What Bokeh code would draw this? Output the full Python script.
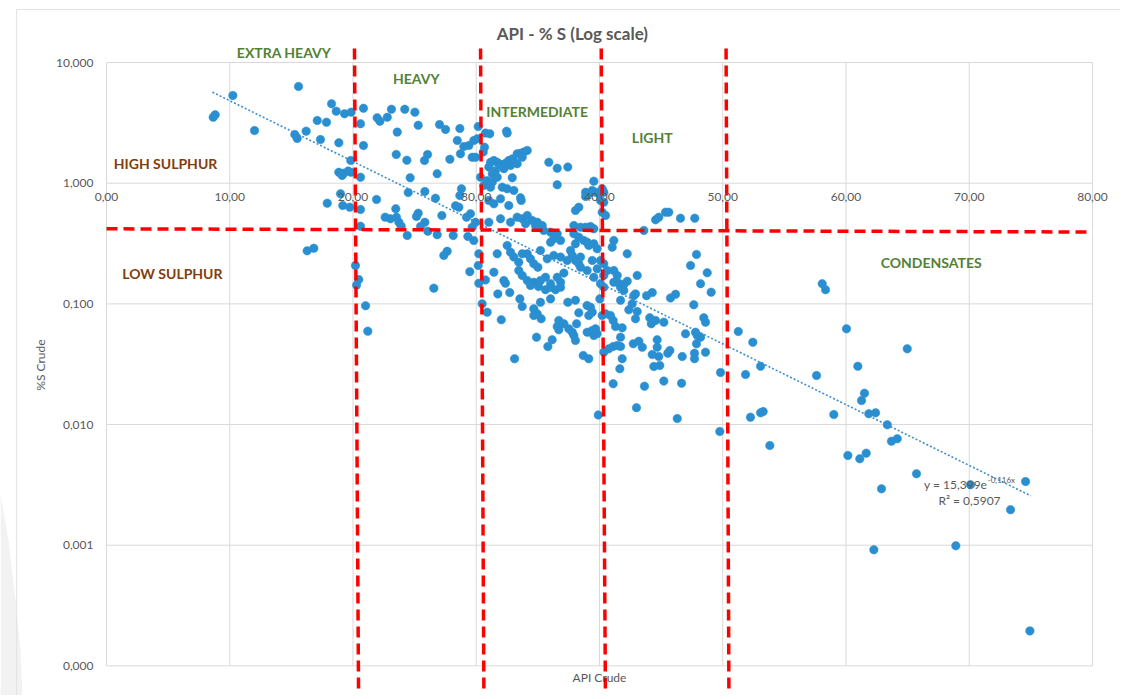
import math
from bokeh.plotting import figure
from bokeh.models import FixedTicker, CustomJSTickFormatter, Range1d
from bokeh.core.properties import value
from bokeh.embed import file_html
from bokeh.resources import INLINE

# ---------------- data ----------------
x_ticks = [0, 10, 20, 30, 40, 50, 60, 70, 80]
y_ticks = [0.0001, 0.001, 0.01, 0.1, 1, 10]

api_a = [8.66,8.82,10.25,12.01,15.58,15.28,15.47,16.20,17.10,17.85,
         17.36,18.26,18.64,19.31,19.85,18.85,19.82,18.85,19.25,19.61,
         19.85,19.12,20.61,20.85,20.61,20.85,21.96,22.18,22.78,23.12,
         24.20,25.02,23.59,25.29,27.02,27.51,28.67,30.16,28.46,28.99,
         29.40,29.80,30.08,23.51,24.37,26.05,25.80,27.86,28.72,29.67,
         29.94,24.64,26.83,30.35,30.67]
s_a = [3.52,3.69,5.33,2.73,6.33,2.53,2.35,2.70,3.31,3.20,
       2.30,4.55,3.95,3.76,3.88,2.16,1.54,1.23,1.21,1.26,
       1.23,1.16,1.12,4.18,3.11,2.05,3.48,3.26,3.52,4.10,
       4.10,3.88,2.65,3.02,3.06,2.79,2.84,2.95,2.26,2.01,
       2.05,2.26,2.33,1.73,1.55,1.73,1.54,1.58,1.75,1.64,
       1.64,1.11,1.20,1.12,1.99]

api_b = [18.99,17.91,19.17,19.74,20.61,21.91,20.61,23.47,22.61,23.04,
         23.53,23.72,23.91,24.40,24.48,25.83,26.69,25.29,25.15,25.83,
         25.48,26.07,27.21,26.83,28.13,28.80,28.67,28.32,28.59,29.21,
         29.53,29.94,29.67,29.32,29.80,16.28,16.82,27.64,27.37,30.21,
         20.20,20.47,20.29,21.02,21.20,26.56,29.48,30.16]
s_b = [0.817,0.683,0.653,0.633,0.605,0.733,0.440,0.614,0.523,0.507,
       0.523,0.475,0.440,0.369,0.837,0.854,0.751,0.564,0.530,0.475,
       0.438,0.400,0.540,0.374,0.369,0.899,0.791,0.650,0.633,0.523,
       0.558,0.475,0.432,0.362,0.335,0.275,0.289,0.273,0.252,0.260,
       0.208,0.159,0.143,0.0964,0.0594,0.135,0.185,0.208]

api_c = [30.75,31.10,30.57,32.46,32.51,
         31.16,31.43,31.70,31.97,32.37,32.64,32.92,33.05,33.32,33.59,
         33.86,34.14,33.73,33.32,32.78,32.24,31.56,31.02,31.30,31.70,
         32.92,30.89,35.89,36.57,37.43,36.57,39.54,38.87,39.13,39.41,
         39.68,39.95,40.22,40.35,38.87,40.08,40.35,40.22,40.49,30.61,
         31.16,31.30,32.11,32.51,33.05,31.02,31.43,31.97,32.64,33.59,
         33.65,38.32,38.05,31.02,31.97,32.78,33.32,33.73,34.14,34.54,
         34.95,35.35,34.81,34.00,35.48,36.03,36.29,36.57,36.84,36.03,
         37.92,38.46,37.92,38.32,38.87,39.27,39.54,43.60,44.55,44.81,
         45.36,45.62,46.57,47.73,38.05,38.73,39.00,39.13,39.54,39.81,
         41.16,41.03,42.25,41.16,41.44,31.43,32.24,33.45,33.73,34.14,
         34.67,35.21,35.62,36.03,36.57,36.84,37.11,37.65,37.79,38.05,
         38.32,38.46,31.70,32.51,32.78,33.05,33.45,33.73,34.14,34.40,
         34.67,35.21,35.76,36.29,36.84,37.38,40.08,40.35,40.63,39.00,
         39.54,39.41]
s_c = [2.60,2.57,1.81,2.70,2.60,
       1.49,1.54,1.49,1.43,1.46,1.54,1.59,1.52,1.75,1.77,
       1.81,1.87,1.64,1.45,1.40,1.32,1.27,1.36,1.20,1.12,
       1.11,1.05,1.49,1.33,1.36,0.970,1.04,0.842,0.817,0.870,
       0.842,0.817,0.899,0.842,0.776,0.719,0.696,0.575,0.540,0.957,
       0.927,1.02,0.927,0.899,0.870,0.719,0.675,0.743,0.653,0.757,
       0.719,0.633,0.594,0.475,0.507,0.475,0.523,0.507,0.540,0.491,
       0.475,0.446,0.446,0.461,0.406,0.393,0.346,0.381,0.335,0.324,
       0.446,0.432,0.381,0.357,0.432,0.438,0.419,0.406,0.497,0.523,
       0.575,0.575,0.513,0.513,0.315,0.335,0.324,0.305,0.315,0.286,
       0.335,0.295,0.260,0.189,0.172,0.183,0.156,0.189,0.172,0.156,
       0.151,0.156,0.166,0.147,0.166,0.151,0.180,0.277,0.252,0.229,
       0.215,0.244,0.260,0.305,0.268,0.244,0.221,0.260,0.260,0.236,
       0.215,0.277,0.236,0.252,0.244,0.229,0.229,0.215,0.189,0.189,
       0.166,0.229]

api_d = [30.21,30.75,30.48,30.89,32.03,33.11,31.75,32.72,32.37,33.54,
         33.73,35.00,36.03,36.43,35.62,35.05,34.40,36.84,36.03,35.21,
         34.67,34.95,35.27,34.67,34.89,35.81,36.16,36.70,37.11,36.70,
         37.51,37.79,38.14,38.05,37.92,36.57,37.43,38.05,38.32,38.99,
         39.27,39.13,39.41,39.00,39.41,39.68,39.81,39.54,38.68,39.13,
         39.90,38.46,39.81,40.35,40.08,40.35,43.06,40.03,40.22,40.49,
         40.89,41.11,41.30,41.84,41.71,41.44,41.71,41.11,40.76,40.35,
         41.84,41.65,41.11,41.16,41.57,41.97,42.25,41.71,41.97,41.71,
         42.38,42.65,42.78,42.92,43.06,42.92,43.82,44.28,42.74,43.19,
         43.47,44.08,44.20,44.55,45.22,45.76,46.17,44.68,44.68,44.28,
         44.81,44.41,44.89,45.71,45.54,43.65,45.22,46.66,43.00,46.31,
         46.71,46.98,47.79,47.93,48.20,47.87,47.65,48.46,48.60,47.71,
         47.71,48.60,47.39,47.87,48.20,48.74,49.06,49.82,49.76,51.26]
s_d = [0.148,0.158,0.100,0.0853,0.0738,0.0351,0.121,0.124,0.148,0.110,
       0.0951,0.201,0.137,0.131,0.131,0.139,0.142,0.137,0.110,0.103,
       0.0910,0.0827,0.0752,0.0801,0.0530,0.0443,0.0504,0.0728,0.0684,0.0610,
       0.0621,0.0582,0.0684,0.0497,0.0547,0.0649,0.103,0.107,0.0843,0.0969,
       0.0939,0.0801,0.0853,0.0582,0.0602,0.0621,0.0565,0.0547,0.0373,0.0351,
       0.0120,0.201,0.195,0.172,0.147,0.137,0.172,0.110,0.0801,0.0827,
       0.0801,0.0728,0.0649,0.0633,0.0530,0.0452,0.0443,0.0443,0.0424,0.0398,
       0.0351,0.0290,0.0218,0.151,0.148,0.145,0.154,0.137,0.129,0.107,
       0.0893,0.100,0.117,0.121,0.0864,0.0752,0.117,0.124,0.0467,0.0490,
       0.0437,0.0767,0.0684,0.0728,0.0705,0.112,0.120,0.0504,0.0437,0.0380,
       0.0366,0.0303,0.0309,0.0411,0.0390,0.0208,0.0229,0.0220,0.0138,0.0112,
       0.0366,0.0565,0.0582,0.0547,0.0530,0.0467,0.0982,0.0767,0.0705,0.0390,
       0.0351,0.0398,0.208,0.257,0.147,0.181,0.125,0.0270,0.00876,0.0590]

api_e = [52.44,53.07,51.85,52.25,53.07,53.28,53.82,58.07,58.34,60.04,
         64.97,60.96,57.61,61.50,61.26,59.01,61.85,62.40,63.35,63.69,
         64.16,60.15,61.12,61.64,65.72,62.88,70.10,74.57,73.35,62.26,
         68.91,74.92]
s_e = [0.0481,0.0304,0.0260,0.0115,0.0125,0.0128,0.00670,0.147,0.131,0.0621,
       0.0424,0.0304,0.0255,0.0182,0.0158,0.0121,0.0123,0.0125,0.00995,0.00728,
       0.00762,0.00554,0.00520,0.00579,0.00391,0.00293,0.00317,0.00337,0.00197,0.000916,
       0.000989,0.000195]

api_crude = api_a + api_b + api_c + api_d + api_e
sulphur_crude = s_a + s_b + s_c + s_d + s_e

# exponential trendline shown on the chart: y = 15,399 e^(-0,116x)
trend_a = 15.399
trend_b = -0.116
trend_x = [8.6, 75.0]
trend_eq = "y = 15,399e"
trend_exp = "-0,116x"
trend_r2 = "R² = 0,5907"

# hand-drawn class boundaries (slightly tilted red dashed lines)
api_bound_top = [20.12, 30.35, 40.14, 50.27]
api_bound_bottom = [20.45, 30.62, 40.48, 50.50]
bound_y = [13.07, 6.13e-5]
sulphur_line_x = [0, 79.6]
sulphur_line_y = [0.419, 0.394]

class_names = ["EXTRA HEAVY", "HEAVY", "INTERMEDIATE", "LIGHT", "CONDENSATES"]
class_x = [14.41, 25.13, 34.94, 44.28, 66.91]
class_y = [12.04, 7.33, 3.95, 2.41, 0.219]
sulph_names = ["HIGH SULPHUR", "LOW SULPHUR"]
sulph_x = [4.79, 5.35]
sulph_y = [1.448, 0.1795]

FONT = "Lato"
GRAY = "#595959"

# the frame covers the whole canvas; axes are pinned inside it
X_LO, X_HI = -8.600, 82.272
Y_LO, Y_HI = 5.682e-5, 32.66

p = figure(width=1120, height=695,
           x_range=Range1d(X_LO, X_HI), y_range=Range1d(Y_LO, Y_HI),
           y_axis_type="log", output_backend="svg", toolbar_location=None,
           min_border=0, min_border_left=0, min_border_right=0,
           min_border_top=0, min_border_bottom=0)
p.outline_line_color = None
p.xgrid.visible = False
p.ygrid.visible = False
p.background_fill_color = "white"
p.border_fill_color = "white"

# slide background shape at the lower-left edge
p.patch([X_LO, -7.95, -7.38, -6.98, -6.82, X_LO],
        [0.00268, 0.001094, 3.48e-4, 1.34e-4, Y_LO, Y_LO],
        fill_color="#f2f2f2", line_color=None)

# chart-area border (left and top edges visible)
border_x = -7.30
border_top = 27.5
p.line([border_x, border_x, X_HI], [Y_LO, border_top, border_top], line_color="#e4e4e4", line_width=1.2)

# grid lines of the plot area
p.segment(x0=x_ticks, x1=x_ticks, y0=[min(y_ticks)] * len(x_ticks), y1=[max(y_ticks)] * len(x_ticks),
          line_color="#d9d9d9", line_width=1)
p.segment(x0=[min(x_ticks)] * len(y_ticks), x1=[max(x_ticks)] * len(y_ticks), y0=y_ticks, y1=y_ticks,
          line_color="#d9d9d9", line_width=1)

# points
p.scatter(api_crude, sulphur_crude, size=8.5, fill_color="#2a8fd1", line_color="#2a8fd1", line_width=0.5)

# trendline
trend_y = [trend_a * math.exp(trend_b * x) for x in trend_x]
p.line(trend_x, trend_y, line_color="#3d8fcf", line_width=1.6, line_dash="2 2")

# red dashed boundary lines
p.segment(x0=api_bound_top, x1=api_bound_bottom, y0=[bound_y[0]] * 4, y1=[bound_y[1]] * 4,
          line_color="#ff0000", line_width=3.5, line_dash="11 6")
p.line(sulphur_line_x, sulphur_line_y, line_color="#ff0000", line_width=3.5, line_dash="11 6")

# class labels
p.text(x=class_x, y=class_y, text=class_names, text_font=value(FONT), text_font_style="bold",
       text_font_size="14px", text_color="#538135", text_align="center", text_baseline="middle")
p.text(x=sulph_x, y=sulph_y, text=sulph_names, text_font=value(FONT), text_font_style="bold",
       text_font_size="14px", text_color="#843c0c", text_align="center", text_baseline="middle")

# title, axis titles
p.text(x=[37.8], y=[17.4], text=["API - % S (Log scale)"], text_font=value(FONT), text_font_style="bold",
       text_font_size="17px", text_color=GRAY, text_align="center", text_baseline="middle")
p.text(x=[40.0], y=[7.96e-5], text=["API Crude"], text_font=value(FONT),
       text_font_size="12px", text_color=GRAY, text_align="center", text_baseline="middle")
p.text(x=[-5.355], y=[0.0311], text=["%S Crude"], text_font=value(FONT), angle=math.pi / 2,
       text_font_size="12px", text_color=GRAY, text_align="center", text_baseline="middle")

# trendline equation
p.text(x=[71.46], y=[0.003166], text=[trend_eq], text_font=value(FONT), text_font_size="12px",
       text_color=GRAY, text_align="right", text_baseline="middle")
p.text(x=[71.5], y=[0.00345], text=[trend_exp], text_font=value(FONT), text_font_size="8px",
       text_color=GRAY, text_align="left", text_baseline="middle")
p.text(x=[70.02], y=[0.002333], text=[trend_r2], text_font=value(FONT), text_font_size="12px",
       text_color=GRAY, text_align="center", text_baseline="middle")

# axes pinned at x = 0 and y = 1
p.xaxis.fixed_location = 1
p.yaxis.fixed_location = 0
p.xaxis.ticker = FixedTicker(ticks=x_ticks)
p.xaxis.formatter = CustomJSTickFormatter(code="return tick.toFixed(2).replace('.', ',');")
p.yaxis.ticker = FixedTicker(ticks=y_ticks)
p.yaxis.formatter = CustomJSTickFormatter(code="return tick.toFixed(3).replace('.', ',');")
for ax in (p.xaxis, p.yaxis):
    ax.axis_line_color = None
    ax.major_tick_line_color = None
    ax.minor_tick_line_color = None
    ax.major_tick_out = 0
    ax.major_tick_in = 0
    ax.major_label_text_font = FONT
    ax.major_label_text_font_size = "12px"
    ax.major_label_text_color = GRAY
p.xaxis.major_label_standoff = 10
p.yaxis.major_label_standoff = 13

open("out.html", "w").write(file_html(p, INLINE))
